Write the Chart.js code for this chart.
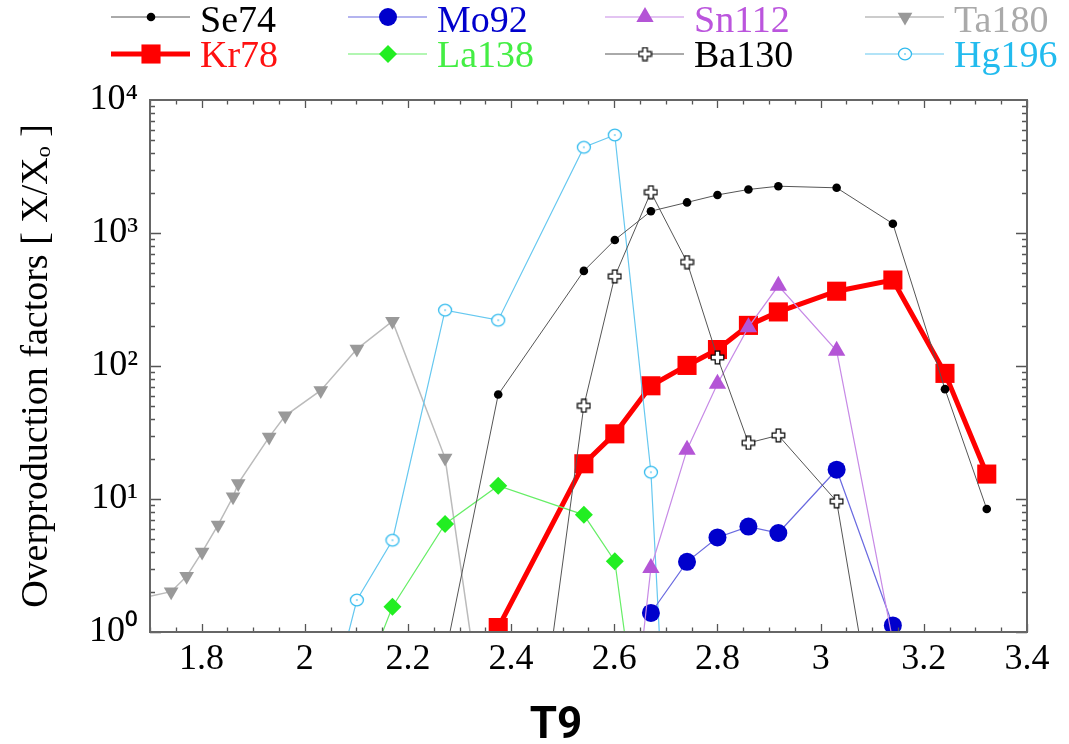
<!DOCTYPE html>
<html>
<head>
<meta charset="utf-8">
<script src="https://cdn.jsdelivr.net/npm/chart.js@4.4.0/dist/chart.umd.min.js"></script>
<style>
  body { margin: 0; background: #fff; }
  #box { width: 1069px; height: 744px; }
</style>
</head>
<body>
<div id="box"><canvas id="grafico"></canvas></div>
<script>
// valores (T9 no eixo x, fator de sobreproducao no eixo y)
const tSe74 = [2.272, 2.375, 2.541, 2.601, 2.671, 2.741, 2.800, 2.860, 2.918, 3.031, 3.140, 3.241, 3.322];
const se74 = [0.66, 61, 519, 887, 1459, 1698, 1933, 2124, 2248, 2187, 1175, 67, 8.4];

const tKr78 = [2.375, 2.541, 2.601, 2.671, 2.741, 2.800, 2.860, 2.918, 3.031, 3.140, 3.241, 3.322];
const kr78 = [1.08, 18.4, 30.9, 71, 101, 133, 202, 255, 365, 443, 88, 15.4];

const tMo92 = [2.671, 2.741, 2.800, 2.860, 2.918, 3.031, 3.140];
const mo92 = [1.39, 3.37, 5.14, 6.2, 5.55, 16.6, 1.12];

const tSn112 = [2.601, 2.671, 2.741, 2.800, 2.860, 2.918, 3.031, 3.140];
const sn112 = [0.012, 3.03, 23.5, 73.5, 196, 401, 130, 0.85];

const tTa180 = [1.65, 1.741, 1.771, 1.801, 1.832, 1.861, 1.871, 1.931, 1.962, 2.031, 2.101, 2.170, 2.272, 2.375];
const ta180 = [1.69, 2.01, 2.62, 3.99, 6.38, 10.4, 13.1, 29.2, 42.2, 65.5, 134, 217, 20.3, 0.034];

const tLa138 = [2.101, 2.170, 2.272, 2.375, 2.541, 2.601, 2.671];
const la138 = [0.32, 1.55, 6.49, 12.6, 7.6, 3.41, 0.034];

const tBa130 = [2.375, 2.541, 2.601, 2.671, 2.741, 2.800, 2.860, 2.918, 3.031, 3.140];
const ba130 = [0.00083, 50.2, 472, 2027, 604, 116, 26.4, 30.1, 9.6, 0.031];

const tHg196 = [2.031, 2.101, 2.170, 2.272, 2.375, 2.541, 2.601, 2.671, 2.741];
const hg196 = [0.15, 1.74, 4.9, 263, 221, 4410, 5450, 15.9, 0.0001];

const xTicks = [1.8, 2.0, 2.2, 2.4, 2.6, 2.8, 3.0, 3.2, 3.4];
const xTickLabels = ['1.8', '2', '2.2', '2.4', '2.6', '2.8', '3', '3.2', '3.4'];
const yTicks = [1, 10, 100, 1000, 10000];
const yTickLabels = ['10\u2070', '10\u00b9', '10\u00b2', '10\u00b3', '10\u2074'];

const serif = "'Liberation Serif', 'Times New Roman', serif";

// marcador da Ba130: cruz vazada
function fazerCruz() {
    const c = document.createElement('canvas');
    c.width = 15; c.height = 15;
    const g = c.getContext('2d');
    const m = 7.5, a = 2.3, b = 6.3;
    g.beginPath();
    g.moveTo(m - a, m - b); g.lineTo(m + a, m - b); g.lineTo(m + a, m - a);
    g.lineTo(m + b, m - a); g.lineTo(m + b, m + a); g.lineTo(m + a, m + a);
    g.lineTo(m + a, m + b); g.lineTo(m - a, m + b); g.lineTo(m - a, m + a);
    g.lineTo(m - b, m + a); g.lineTo(m - b, m - a); g.lineTo(m - a, m - a);
    g.closePath();
    g.fillStyle = '#fff'; g.fill();
    g.lineWidth = 1.2; g.strokeStyle = '#000'; g.stroke();
    return c;
}

// marcador da Hg196: circulo aberto com ponto no meio
function fazerCirculo() {
    const c = document.createElement('canvas');
    c.width = 16; c.height = 16;
    const g = c.getContext('2d');
    g.beginPath();
    g.ellipse(8, 8, 6.5, 5.8, 0, 0, Math.PI * 2);
    g.fillStyle = '#fff'; g.fill();
    g.lineWidth = 1.3; g.strokeStyle = '#33bbee'; g.stroke();
    g.fillStyle = '#33bbee';
    g.fillRect(7.3, 7.3, 1.4, 1.4);
    return c;
}

function pontos(xs, ys) {
    return xs.map((x, i) => ({ x: x, y: ys[i] }));
}

const series = [
    { label: 'Ba130', xs: tBa130, ys: ba130, line: '#555', width: 1, style: fazerCruz(), radius: 7, fill: '#fff', border: '#000', text: '#000' },
    { label: 'Sn112', xs: tSn112, ys: sn112, line: '#c78ae6', width: 1.2, style: 'triangle', radius: 10, fill: '#b455d6', border: '#b455d6', text: '#bb55dd' },
    { label: 'Mo92', xs: tMo92, ys: mo92, line: '#6a6ae0', width: 1.2, style: 'circle', radius: 9, fill: '#0000cc', border: '#0000cc', text: '#0000cc' },
    { label: 'Se74', xs: tSe74, ys: se74, line: '#555', width: 1, style: 'circle', radius: 4.3, fill: '#000', border: '#000', text: '#000' },
    { label: 'Hg196', xs: tHg196, ys: hg196, line: '#66c8f0', width: 1.2, style: fazerCirculo(), radius: 7, fill: '#fff', border: '#33bbee', text: '#22bbee' },
    { label: 'La138', xs: tLa138, ys: la138, line: '#66ee66', width: 1.2, style: 'rectRot', radius: 9, fill: '#22ee22', border: '#22ee22', text: '#44ee44' },
    { label: 'Ta180', xs: tTa180, ys: ta180, line: '#bbbbbb', width: 1.5, style: 'triangle', rotation: 180, radius: 8.5, fill: '#999999', border: '#999999', text: '#aaaaaa' },
    { label: 'Kr78', xs: tKr78, ys: kr78, line: '#ff0000', width: 5, style: 'rect', radius: 13.5, fill: '#ff0000', border: '#ff0000', text: '#ff1111' }
];

const datasets = series.map(s => ({
    label: s.label,
    data: pontos(s.xs, s.ys),
    borderColor: s.line,
    borderWidth: s.width,
    pointStyle: s.style,
    pointRadius: s.radius,
    pointRotation: s.rotation || 0,
    pointBackgroundColor: s.fill,
    pointBorderColor: s.border,
    pointBorderWidth: 0,
    fill: false,
    tension: 0,
    clip: 0
}));

// ordem da legenda (duas linhas de quatro)
const legendaOrdem = [['Se74', 'Mo92', 'Sn112', 'Ta180'], ['Kr78', 'La138', 'Ba130', 'Hg196']];

const legendaPlugin = {
    id: 'legendaPlugin',
    afterDraw(chart) {
        const ctx = chart.ctx;
        const colX = [111, 348, 605, 865];
        const rowY = [17, 54];
        const baseY = [32, 67];
        ctx.save();
        legendaOrdem.forEach((linha, r) => {
            linha.forEach((nome, c) => {
                const s = series.find(d => d.label === nome);
                const x0 = colX[c], y = rowY[r];
                ctx.strokeStyle = s.line;
                ctx.lineWidth = s.width;
                ctx.beginPath();
                ctx.moveTo(x0, y); ctx.lineTo(x0 + 79, y);
                ctx.stroke();
                ctx.fillStyle = s.fill;
                ctx.strokeStyle = s.border;
                Chart.helpers.drawPoint(ctx, { pointStyle: s.style, radius: s.radius, rotation: s.rotation || 0, borderWidth: 0 }, x0 + 40, y);
                ctx.fillStyle = s.text;
                ctx.font = '38px ' + serif;
                ctx.textAlign = 'left';
                ctx.textBaseline = 'alphabetic';
                ctx.fillText(nome, x0 + 89, baseY[r]);
            });
        });
        // titulo do eixo x
        ctx.fillStyle = '#000';
        ctx.font = "bold 44px Roboto, 'Liberation Sans', sans-serif";
        ctx.textAlign = 'center';
        ctx.textBaseline = 'middle';
        ctx.fillText('T9', 556, 727);
        ctx.restore();
    }
};

// moldura e marcas para dentro nos quatro lados
const molduraPlugin = {
    id: 'molduraPlugin',
    afterDatasetsDraw(chart) {
        const ctx = chart.ctx;
        const a = chart.chartArea;
        const sx = chart.scales.x, sy = chart.scales.y;
        ctx.save();
        ctx.strokeStyle = '#555';
        ctx.lineWidth = 1.3;
        ctx.beginPath();
        for (let v = 1.7; v <= 3.4001; v += 0.05) {
            const px = Math.round(sx.getPixelForValue(v)) + 0.5;
            const major = Math.abs(Math.round(v * 5) - v * 5) < 0.001;
            const len = major ? 8 : 4.5;
            ctx.moveTo(px, a.bottom); ctx.lineTo(px, a.bottom - len);
            ctx.moveTo(px, a.top); ctx.lineTo(px, a.top + len);
        }
        for (let d = 0; d < 4; d++) {
            for (let m = 1; m <= 9; m++) {
                const py = Math.round(sy.getPixelForValue(m * Math.pow(10, d))) + 0.5;
                const len = m === 1 ? 11 : 5;
                ctx.moveTo(a.left, py); ctx.lineTo(a.left + len, py);
                ctx.moveTo(a.right, py); ctx.lineTo(a.right - len, py);
            }
        }
        ctx.stroke();
        ctx.lineWidth = 2;
        ctx.strokeStyle = '#666';
        ctx.strokeRect(a.left, a.top, a.right - a.left, a.bottom - a.top);
        ctx.restore();
    }
};

new Chart(document.getElementById('grafico'), {
    type: 'line',
    data: { datasets: datasets },
    options: {
        responsive: true,
        maintainAspectRatio: false,
        animation: false,
        layout: { padding: { top: 100, right: 42, left: 0, bottom: 0 } },
        plugins: { legend: { display: false }, tooltip: { enabled: false } },
        scales: {
            x: {
                type: 'linear',
                min: 1.7,
                max: 3.4,
                grid: { display: false, drawTicks: false },
                border: { display: false },
                afterBuildTicks: scale => { scale.ticks = xTicks.map(v => ({ value: v })); },
                afterFit: scale => { scale.height = 112; },
                ticks: {
                    autoSkip: false,
                    maxRotation: 0,
                    padding: 6,
                    color: '#000',
                    font: { family: serif, size: 36 },
                    callback: (v, i) => xTickLabels[i]
                }
            },
            y: {
                type: 'logarithmic',
                min: 1,
                max: 10000,
                grid: { display: false, drawTicks: false },
                border: { display: false },
                afterBuildTicks: scale => { scale.ticks = yTicks.map(v => ({ value: v })); },
                afterFit: scale => { scale.width = 150; },
                ticks: {
                    autoSkip: false,
                    padding: 12,
                    color: '#000',
                    font: { family: serif, size: 36 },
                    callback: (v, i) => yTickLabels[i]
                },
                title: {
                    display: true,
                    text: 'Overproduction factors [ X/X\u2092 ]',
                    color: '#000',
                    font: { family: serif, size: 38 },
                    padding: { top: 14, bottom: 0 }
                }
            }
        }
    },
    plugins: [legendaPlugin, molduraPlugin]
});
</script>
</body>
</html>
